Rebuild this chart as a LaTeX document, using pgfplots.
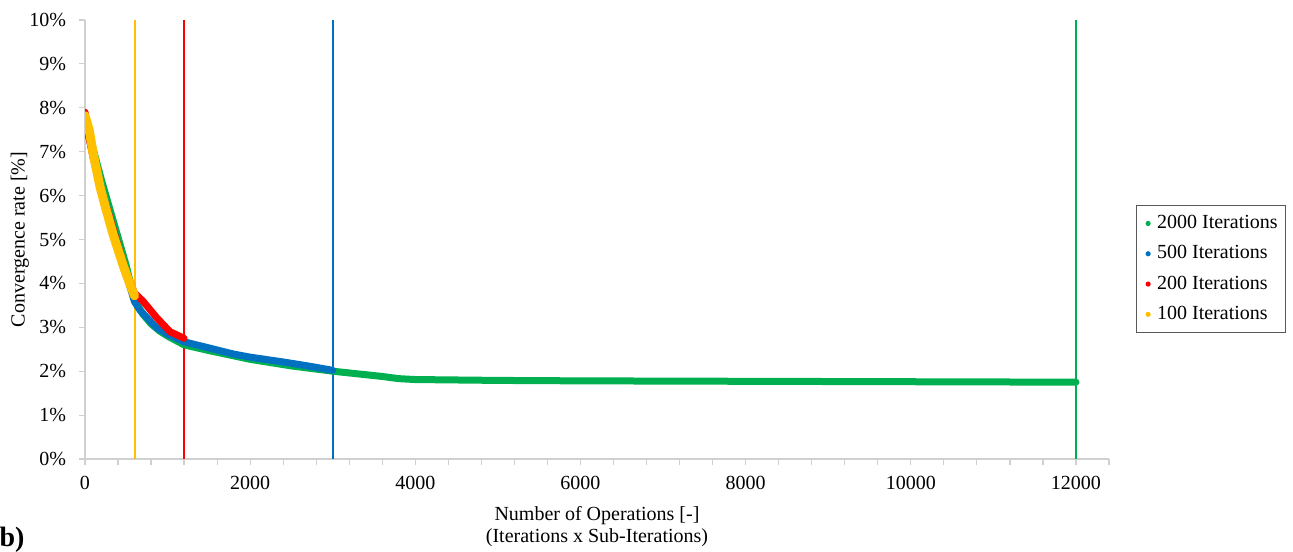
\documentclass[border=0pt]{standalone}
\usepackage{fontspec}
\setmainfont{Liberation Serif}
\usepackage{pgfplots}
\pgfplotsset{compat=1.18}
\definecolor{cgreen}{HTML}{00B050}
\definecolor{cblue}{HTML}{0070C0}
\definecolor{cred}{HTML}{FF0000}
\definecolor{cyellow}{HTML}{FFC000}
\definecolor{axgray}{HTML}{D0D0D0}

\begin{document}
\begin{tikzpicture}
\useasboundingbox (0,0) rectangle (646.5pt,275.5pt);
\begin{axis}[
  at={(42.5pt,46pt)}, anchor=south west,
  scale only axis, width=512pt, height=219.5pt,
  xmin=0, xmax=12400, ymin=0, ymax=10,
  axis lines*=left,
  axis line style={axgray, line width=0.6pt},
  xtick={0,2000,...,12000},
  minor xtick={0,400,...,12400},
  ytick={0,1,...,10},
  scaled ticks=false,
  tick align=outside,
  major tick length=3pt, minor tick length=3pt,
  every tick/.style={axgray, line width=0.6pt},
  font=\fontsize{10}{12}\selectfont,
  /pgf/number format/assume math mode=true,
  /pgf/number format/1000 sep={},
  yticklabel={\pgfmathprintnumber{\tick}\%},
  xticklabel style={yshift=-2pt},
  yticklabel style={xshift=-3pt},
  xlabel={Number of Operations [-]\\[-1pt](Iterations x Sub-Iterations)},
  xlabel style={at={(axis description cs:0.5,-0.153)}, anchor=center, align=center},
  ylabel={Convergence rate [\%]},
  ylabel style={at={(axis description cs:-0.0635,0.5)}, anchor=center},
  legend image code/.code={\path[draw=none, fill=none] (0pt,0pt) -- (6.5pt,0pt);
    \fill[#1, draw=none] (4pt,0pt) circle (1.3pt);},
  legend style={at={(1.026,0.579)}, anchor=north west, draw=black!65,
    line width=0.5pt, font=\fontsize{10}{12}\selectfont, row sep=3pt,
    inner xsep=2pt, inner ysep=3pt},
  legend cell align=left,
]
% vertical markers at the end of each run
\addplot[cyellow, line width=1pt, forget plot] coordinates {(600,0) (600,10)};
\addplot[cred, line width=1pt, forget plot] coordinates {(1200,0) (1200,10)};
\addplot[cblue, line width=1pt, forget plot] coordinates {(3000,0) (3000,10)};
\addplot[cgreen, line width=1pt, forget plot] coordinates {(12000,0) (12000,10)};

\addplot[cgreen, line width=3.5pt, line join=round, line cap=round] coordinates {
(0,7.8) (50,7.45) (100,7.05) (200,6.35) (300,5.7) (400,5.05) (500,4.4) (600,3.62)
(700,3.3) (800,3.08) (900,2.92) (1000,2.8) (1200,2.6) (1500,2.47) (2000,2.27)
(2500,2.12) (3000,2.0) (3300,1.94) (3600,1.88) (3800,1.83) (4000,1.81)
(5000,1.79) (6000,1.78) (8000,1.77) (10000,1.76) (12000,1.75)};
\addlegendentry{2000 Iterations}

\addplot[cblue, line width=3.5pt, line join=round, line cap=round] coordinates {
(0,7.6) (50,7.3) (100,6.9) (200,6.15) (300,5.5) (400,4.85) (500,4.2) (600,3.58)
(666,3.39) (800,3.12) (868,2.99) (1000,2.84) (1200,2.67) (1500,2.53) (1800,2.39)
(2000,2.32) (2400,2.21) (2700,2.12) (3000,2.02)};
\addlegendentry{500 Iterations}

\addplot[cred, line width=3.5pt, line join=round, line cap=round] coordinates {
(0,7.9) (30,7.5) (100,6.85) (200,6.1) (300,5.5) (400,4.85) (500,4.25) (600,3.78)
(700,3.6) (868,3.22) (1029,2.9) (1200,2.75)};
\addlegendentry{200 Iterations}

\addplot[cyellow, line width=4.5pt, line join=round, line cap=round] coordinates {
(0,7.82) (50,7.5) (100,6.95) (182,6.2) (250,5.72) (343,5.1) (464,4.4) (550,3.95)
(600,3.72)};
\addlegendentry{100 Iterations}
\end{axis}
\node[font=\bfseries\fontsize{14}{16}\selectfont, anchor=center] at (6pt,5.5pt) {b)};
\end{tikzpicture}
\end{document}
